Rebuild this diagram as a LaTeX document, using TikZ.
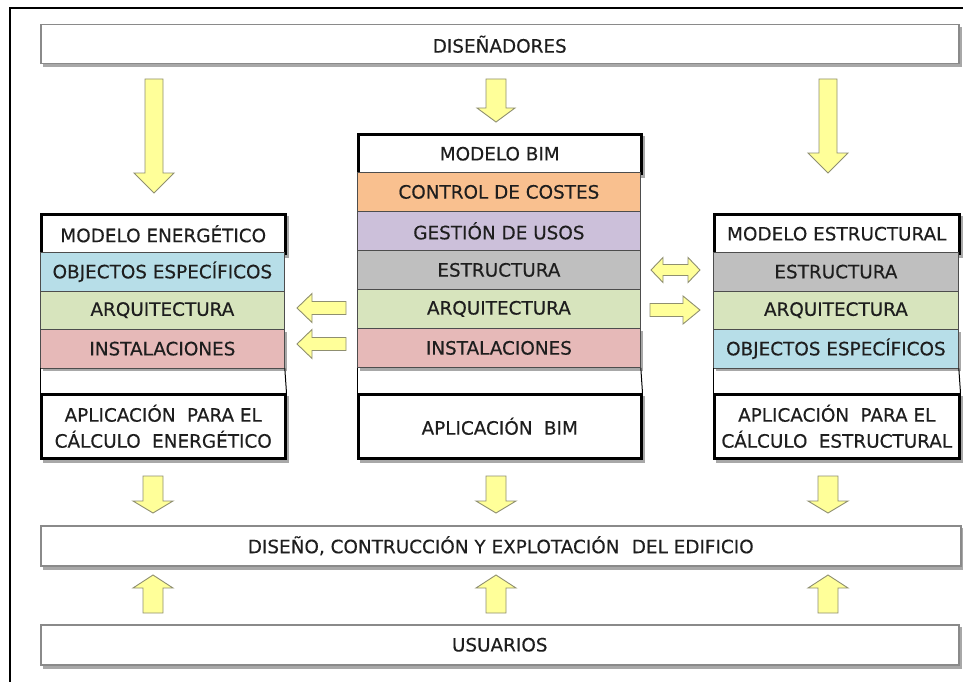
\documentclass[tikz,border=0pt]{standalone}
\usepackage{fontspec}
\setmainfont{DejaVu Sans}[FakeBold=0.35]
\usetikzlibrary{backgrounds}
\definecolor{txt}{HTML}{1E1E1E}
\definecolor{boxgray}{HTML}{8A8A8A}
\definecolor{layerline}{HTML}{4D4D4D}
\definecolor{corange}{HTML}{F9C08F}
\definecolor{cpurple}{HTML}{CCC0DA}
\definecolor{cgray}{HTML}{BFBFBF}
\definecolor{cgreen}{HTML}{D7E4BD}
\definecolor{cpink}{HTML}{E6B9B8}
\definecolor{cblue}{HTML}{B7DEE8}
\definecolor{afill}{HTML}{FFFF99}
\definecolor{aline}{HTML}{8F8F70}
\definecolor{shade}{HTML}{A8A8A8}
\tikzset{
  base/.style={font=\fontsize{18.4}{26}\selectfont, text=txt, align=center, inner sep=0pt, anchor=north west},
  graybox/.style={base, draw=boxgray, line width=1.5pt, fill=white},
  blackbox/.style={base, draw=black, line width=2.5pt, fill=white},
  layer/.style={base, draw=layerline, line width=0.8pt},
  shadowfill/.style={fill=shade},
  fatarrow/.style={fill=afill, draw=aline, line width=0.9pt, line join=miter},
  fatdown/.style n args={3}{fatarrow, to path={([xshift=-#1]\tikztostart) -- ([xshift=#1]\tikztostart) -- ([xshift=#1,yshift=#3]\tikztotarget) -- ([xshift=#2,yshift=#3]\tikztotarget) -- (\tikztotarget) -- ([xshift=-#2,yshift=#3]\tikztotarget) -- ([xshift=-#1,yshift=#3]\tikztotarget) -- cycle}},
  fatup/.style n args={3}{fatarrow, to path={([xshift=-#1]\tikztostart) -- ([xshift=#1]\tikztostart) -- ([xshift=#1,yshift=-#3]\tikztotarget) -- ([xshift=#2,yshift=-#3]\tikztotarget) -- (\tikztotarget) -- ([xshift=-#2,yshift=-#3]\tikztotarget) -- ([xshift=-#1,yshift=-#3]\tikztotarget) -- cycle}},
  fatleft/.style n args={3}{fatarrow, to path={([yshift=-#1]\tikztostart) -- ([yshift=#1]\tikztostart) -- ([xshift=#3,yshift=#1]\tikztotarget) -- ([xshift=#3,yshift=#2]\tikztotarget) -- (\tikztotarget) -- ([xshift=#3,yshift=-#2]\tikztotarget) -- ([xshift=#3,yshift=-#1]\tikztotarget) -- cycle}},
  fatright/.style n args={3}{fatarrow, to path={([yshift=-#1]\tikztostart) -- ([yshift=#1]\tikztostart) -- ([xshift=-#3,yshift=#1]\tikztotarget) -- ([xshift=-#3,yshift=#2]\tikztotarget) -- (\tikztotarget) -- ([xshift=-#3,yshift=-#2]\tikztotarget) -- ([xshift=-#3,yshift=-#1]\tikztotarget) -- cycle}},
  fatboth/.style n args={3}{fatarrow, to path={(\tikztostart) -- ([xshift=#3,yshift=#2]\tikztostart) -- ([xshift=#3,yshift=#1]\tikztostart) -- ([xshift=-#3,yshift=#1]\tikztotarget) -- ([xshift=-#3,yshift=#2]\tikztotarget) -- (\tikztotarget) -- ([xshift=-#3,yshift=-#2]\tikztotarget) -- ([xshift=-#3,yshift=-#1]\tikztotarget) -- ([xshift=#3,yshift=-#1]\tikztostart) -- ([xshift=#3,yshift=-#2]\tikztostart) -- cycle}},
}
\begin{document}
\begin{tikzpicture}[x=1pt, y=-1pt]
\useasboundingbox (0,0) rectangle (963,682);
% outer frame
\coordinate (fbl) at (10,684);
\coordinate (ftl) at (10,8);
\coordinate (ftr) at (965,8);
\draw[line width=2pt] (fbl) -- (ftl) -- (ftr);

% top and bottom bands
\node[graybox, minimum width=918pt, minimum height=39pt] (dis) at (40,24) {DISEÑADORES};
\node[graybox, minimum width=920pt, minimum height=40pt] (edif) at (40,525) {DISEÑO, CONTRUCCIÓN Y EXPLOTACIÓN\hspace{0.35em} DEL EDIFICIO};
\node[graybox, minimum width=918pt, minimum height=40pt] (usu) at (40,624) {USUARIOS};

% left column
\node[blackbox, minimum width=244pt, minimum height=39pt] (le) at (40,213) {MODELO ENERGÉTICO};
\node[layer, fill=cblue, minimum width=244pt, minimum height=38.5pt] (l1) at (40,252) {OBJECTOS ESPECÍFICOS};
\node[layer, fill=cgreen, minimum width=244pt, minimum height=38.5pt] (l2) at (40,290.5) {ARQUITECTURA};
\node[layer, fill=cpink, minimum width=244pt, minimum height=38.5pt] (l3) at (40,329) {INSTALACIONES};
\node[blackbox, minimum width=244pt, minimum height=64pt] (la) at (40,393) {APLICACIÓN\hspace{0.3em} PARA EL\\CÁLCULO\hspace{0.3em} ENERGÉTICO};
\draw[line width=1pt] (l3.south west) -- (la.north west);
\draw[line width=1pt] (l3.south east) -- (la.north east);

% center column
\node[blackbox, minimum width=283pt, minimum height=39pt] (cb) at (357,133) {MODELO BIM};
\node[layer, fill=corange, minimum width=283pt, minimum height=39pt] (c1) at (357,172) {CONTROL DE COSTES};
\node[layer, fill=cpurple, minimum width=283pt, minimum height=39pt] (c2) at (357,211) {GESTIÓN DE USOS};
\node[layer, fill=cgray, minimum width=283pt, minimum height=39pt] (c3) at (357,250) {ESTRUCTURA};
\node[layer, fill=cgreen, minimum width=283pt, minimum height=39pt] (c4) at (357,289) {ARQUITECTURA};
\node[layer, fill=cpink, minimum width=283pt, minimum height=39pt] (c5) at (357,328) {INSTALACIONES};
\node[blackbox, minimum width=283pt, minimum height=64pt] (ca) at (357,393) {APLICACIÓN\hspace{0.3em} BIM};
\draw[line width=1pt] (c5.south west) -- (ca.north west);
\draw[line width=1pt] (c5.south east) -- (ca.north east);

% right column
\node[blackbox, minimum width=245pt, minimum height=39pt] (re) at (713,213) {MODELO ESTRUCTURAL};
\node[layer, fill=cgray, minimum width=245pt, minimum height=38.5pt] (r1) at (713,252) {ESTRUCTURA};
\node[layer, fill=cgreen, minimum width=245pt, minimum height=38.5pt] (r2) at (713,290.5) {ARQUITECTURA};
\node[layer, fill=cblue, minimum width=245pt, minimum height=38.5pt] (r3) at (713,329) {OBJECTOS ESPECÍFICOS};
\node[blackbox, minimum width=245pt, minimum height=64pt] (ra) at (713,393) {APLICACIÓN\hspace{0.3em} PARA EL\\CÁLCULO\hspace{0.3em} ESTRUCTURAL};
\draw[line width=1pt] (r3.south west) -- (ra.north west);
\draw[line width=1pt] (r3.south east) -- (ra.north east);

% soft shadows behind the boxes
\begin{scope}[on background layer]
\foreach \n in {dis,edif,usu,le,la,cb,ca,re,ra,l3,c5,r3}{
  \fill[shadowfill] ([xshift=2.5pt,yshift=-3pt]\n.north west) rectangle ([xshift=2.5pt,yshift=-3pt]\n.south east);
}
\end{scope}

% arrow end points
\coordinate (t1s) at (154,79);  \coordinate (t1e) at (154,193);
\coordinate (t2s) at (496,79);  \coordinate (t2e) at (496,122);
\coordinate (t3s) at (828,79);  \coordinate (t3e) at (828,173);
\coordinate (la1s) at (346,308); \coordinate (la1e) at (297,308);
\coordinate (la2s) at (346,344); \coordinate (la2e) at (297,344);
\coordinate (ra1s) at (651,270); \coordinate (ra1e) at (700,270);
\coordinate (ra2s) at (650,310); \coordinate (ra2e) at (700,310);
\coordinate (b1s) at (153,476); \coordinate (b1e) at (153,513);
\coordinate (b2s) at (496,476); \coordinate (b2e) at (496,513);
\coordinate (b3s) at (828,476); \coordinate (b3e) at (828,513);
\coordinate (u1s) at (153,613); \coordinate (u1e) at (153,575);
\coordinate (u2s) at (496,613); \coordinate (u2e) at (496,575);
\coordinate (u3s) at (828,613); \coordinate (u3e) at (828,575);

% block arrows
\draw[fatdown={9pt}{20pt}{20pt}] (t1s) to (t1e);
\draw[fatdown={10pt}{19pt}{14pt}] (t2s) to (t2e);
\draw[fatdown={9pt}{20pt}{20pt}] (t3s) to (t3e);
\draw[fatleft={6.5pt}{14.5pt}{15pt}] (la1s) to (la1e);
\draw[fatleft={6.5pt}{14.5pt}{15pt}] (la2s) to (la2e);
\draw[fatboth={5.5pt}{12.5pt}{12pt}] (ra1s) to (ra1e);
\draw[fatright={6.5pt}{14pt}{17pt}] (ra2s) to (ra2e);
\draw[fatdown={10pt}{20pt}{12pt}] (b1s) to (b1e);
\draw[fatdown={10pt}{20pt}{12pt}] (b2s) to (b2e);
\draw[fatdown={10pt}{20pt}{12pt}] (b3s) to (b3e);
\draw[fatup={10pt}{20pt}{13pt}] (u1s) to (u1e);
\draw[fatup={10pt}{20pt}{13pt}] (u2s) to (u2e);
\draw[fatup={10pt}{20pt}{13pt}] (u3s) to (u3e);
\end{tikzpicture}
\end{document}
